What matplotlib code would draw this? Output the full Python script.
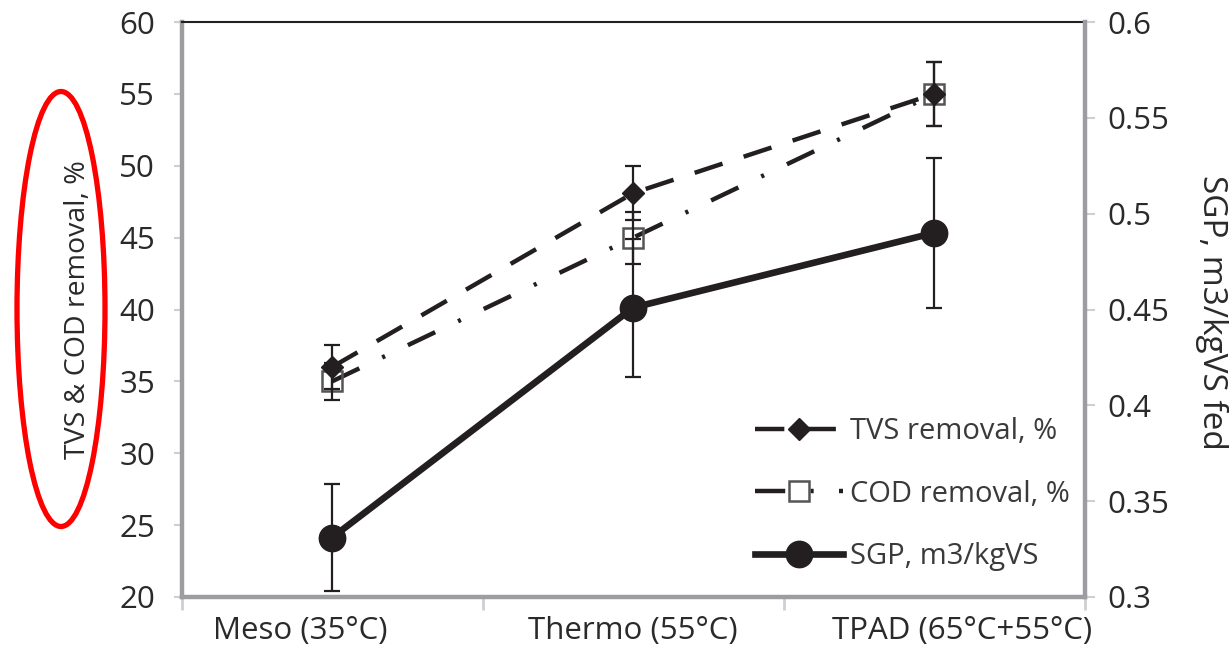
import matplotlib
matplotlib.use("Agg")
import matplotlib.pyplot as plt
import matplotlib.ticker as ticker
from matplotlib.patches import Ellipse
from matplotlib.transforms import ScaledTranslation

plt.rcParams['font.family'] = ['Open Sans', 'DejaVu Sans']

# data
categories = ["Meso (35°C)", "Thermo (55°C)", "TPAD (65°C+55°C)"]
tvs_removal = [36.0, 48.1, 55.0]
tvs_err = [1.5, 1.9, 2.2]
cod_removal = [35.0, 45.0, 55.0]
cod_err = [1.3, 1.8, 2.2]
sgp = [0.331, 0.451, 0.490]
sgp_err = [0.028, 0.036, 0.039]
left_ticks = [20, 25, 30, 35, 40, 45, 50, 55, 60]
right_ticks = [0.3, 0.35, 0.4, 0.45, 0.5, 0.55, 0.6]

ink = '#231f20'
spine_gray = '#9d9da1'
tick_gray = '#cfcfcf'
text_color = '#2a2a2a'
fs = 22.5

W, H = 1229, 660
fig = plt.figure(figsize=(W / 100, H / 100), dpi=100, facecolor='white')
ax = fig.add_axes([181.5 / W, 1 - 597 / H, (1085 - 181.5) / W, (597 - 22) / H])
ax2 = ax.twinx()

x = [i + 0.5 for i in range(len(categories))]

# removal series (left axis)
l_cod, = ax.plot(x, cod_removal, color=ink, lw=3.2, dashes=(6.8, 5.7, 0.7, 5.7),
                 marker='s', ms=15, mfc='none', mec='#555555', mew=1.8,
                 label='COD removal, %', zorder=3)
l_tvs, = ax.plot(x, tvs_removal, color=ink, lw=3.2, dashes=(6.6, 5.0),
                 marker='D', ms=11.5, mfc=ink, mec=ink,
                 label='TVS removal, %', zorder=4)
ax.errorbar(x, cod_removal, yerr=cod_err, fmt='none', ecolor=ink,
            elinewidth=1.6, capsize=6, capthick=1.6, zorder=5)
ax.errorbar(x, tvs_removal, yerr=tvs_err, fmt='none', ecolor=ink,
            elinewidth=1.6, capsize=6, capthick=1.6, zorder=5)

# SGP (right axis)
l_sgp, = ax2.plot(x, sgp, color=ink, lw=4.8, marker='o', ms=19,
                  label='SGP, m3/kgVS', zorder=3)
ax2.errorbar(x, sgp, yerr=sgp_err, fmt='none', ecolor=ink,
             elinewidth=1.6, capsize=6, capthick=1.6, zorder=4)

ax.set_xlim(0, len(categories))
ax.set_ylim(20, 60)
ax2.set_ylim(0.3, 0.6)

# spines
for a in (ax, ax2):
    a.set_facecolor('none')
ax.spines['left'].set_color(spine_gray)
ax.spines['left'].set_linewidth(3.2)
ax.spines['bottom'].set_color(spine_gray)
ax.spines['bottom'].set_linewidth(3.2)
ax.spines['top'].set_color(ink)
ax.spines['top'].set_linewidth(1.5)
ax.spines['right'].set_visible(False)
for s in ('left', 'top', 'bottom'):
    ax2.spines[s].set_visible(False)
ax2.spines['right'].set_color(spine_gray)
ax2.spines['right'].set_linewidth(3.2)

# ticks
ax.set_yticks(left_ticks)
ax.tick_params(axis='y', direction='out', length=6, width=1.5, color=tick_gray,
               pad=13, labelsize=fs, labelcolor=text_color)
ax2.set_yticks(right_ticks)
ax2.yaxis.set_major_formatter(ticker.FuncFormatter(lambda v, _: f"{v:g}"))
ax2.tick_params(axis='y', direction='out', length=7, width=1.5, color=tick_gray,
                pad=9, labelsize=fs, labelcolor=text_color)

ax.set_xticks(range(len(categories) + 1))
ax.set_xticklabels([])
ax.set_xticks(x, minor=True)
ax.set_xticklabels(categories, minor=True)
ax.tick_params(axis='x', which='major', direction='out', length=9, width=2,
               color=tick_gray)
ax.tick_params(axis='x', which='minor', length=0, pad=14, labelsize=fs,
               labelcolor=text_color)
# labels sit a bit off the category centres in the original
for lab, dx in zip(ax.get_xticklabels(minor=True), [-32, 0, 28]):
    lab.set_transform(lab.get_transform() + ScaledTranslation(dx / 100, 0, fig.dpi_scale_trans))

ax.set_ylabel('TVS & COD removal, %', fontsize=20.5, color=text_color, va='center')
ax.yaxis.set_label_coords(-0.1146, 0.5)
ax2.set_ylabel('SGP, m3/kgVS fed', fontsize=24, color=text_color,
               rotation=270, va='center')
ax2.yaxis.set_label_coords(1.1405, 0.495)

ax2.legend(handles=[l_tvs, l_cod, l_sgp], loc='center left',
           bbox_to_anchor=(755 / W, 1 - 494 / H), bbox_transform=fig.transFigure,
           frameon=False, fontsize=21, handlelength=3.0, handletextpad=0.25,
           labelspacing=1.15, borderpad=0, borderaxespad=0, labelcolor='#3a3a3a')

# red highlight around the left axis title
fig.add_artist(Ellipse((61 / W, 1 - 309 / H), 88 / W, 435 / H,
                       transform=fig.transFigure, fill=False,
                       ec='#ff0000', lw=3.8))

fig.savefig('out.png', dpi=100)
